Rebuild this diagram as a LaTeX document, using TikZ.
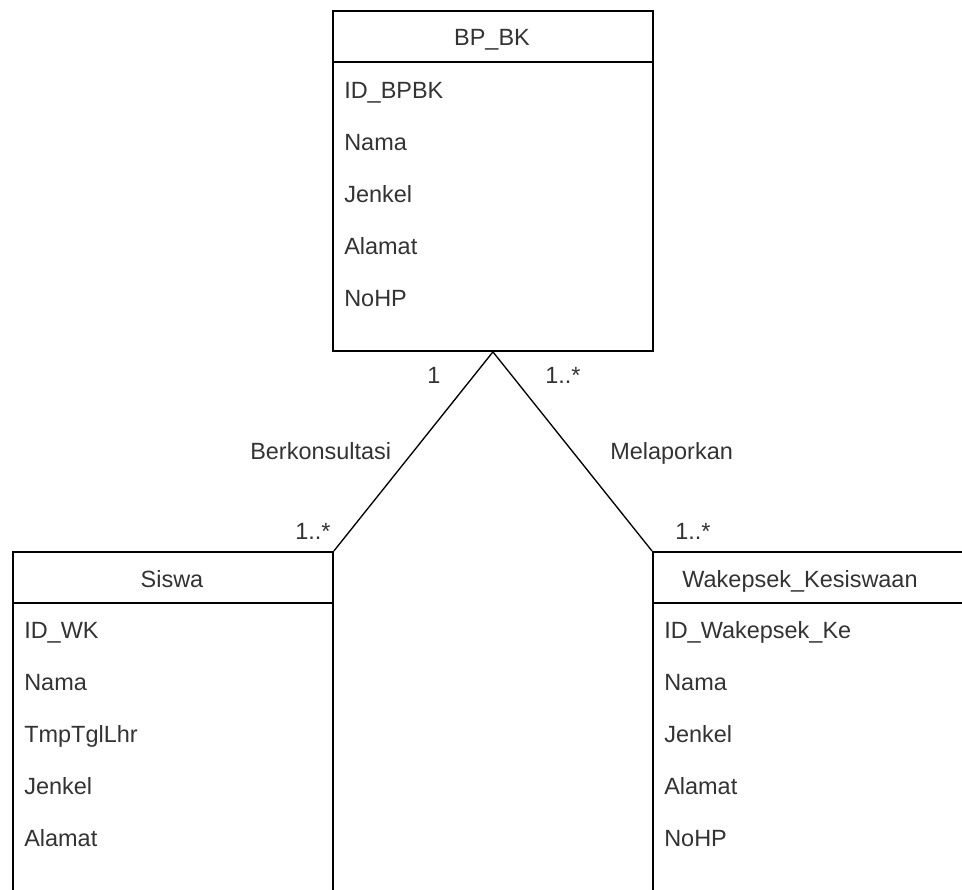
\documentclass[tikz,border=0pt]{standalone}
\usepackage{fontspec}
\setmainfont{Liberation Sans}
\begin{document}
\begin{tikzpicture}[x=0.75pt,y=-0.75pt,
  umlbox/.style={draw=black, line width=1.4pt, fill=white, rectangle, inner sep=0pt,
    minimum width=240pt, minimum height=255pt, anchor=north west},
  divider/.style={draw=black, line width=1.4pt},
  assoc/.style={draw=black, line width=1pt},
  txt/.style={text=black!80, inner sep=0pt, anchor=base west, font=\fontsize{17.6}{20}\selectfont},
  title/.style={txt, anchor=base}]
\path[use as bounding box] (0,0) rectangle (962,889);
\clip (0,0) rectangle (962,889);

% class boxes
\node[umlbox] (bpbk) at (332,10) {};
\node[umlbox] (siswa) at (12,551) {};
\node[umlbox] (waka) at (652,551) {};

% header dividers
\foreach \b in {bpbk,siswa,waka}
  \draw[divider] ([yshift=-39pt]\b.north west) -- ([yshift=-39pt]\b.north east);

% BP_BK
\node[title] (t1) at (492,45) {BP\_BK};
\node[txt] (a11) at (344,98) {ID\_BPBK};
\node[txt] (a12) at (344,150) {Nama};
\node[txt] (a13) at (344,202) {Jenkel};
\node[txt] (a14) at (344,254) {Alamat};
\node[txt] (a15) at (344,306) {NoHP};

% Siswa
\node[title] (t2) at (172,587) {Siswa};
\node[txt] (a21) at (24,638) {ID\_WK};
\node[txt] (a22) at (24,690) {Nama};
\node[txt] (a23) at (24,742) {TmpTglLhr};
\node[txt] (a24) at (24,794) {Jenkel};
\node[txt] (a25) at (24,846) {Alamat};

% Wakepsek_Kesiswaan
\node[title] (t3) at (800,587) {Wakepsek\_Kesiswaan};
\node[txt] (a31) at (664,638) {ID\_Wakepsek\_Ke};
\node[txt] (a32) at (664,690) {Nama};
\node[txt] (a33) at (664,742) {Jenkel};
\node[txt] (a34) at (664,794) {Alamat};
\node[txt] (a35) at (664,846) {NoHP};

% associations
\draw[assoc] (bpbk.south) -- (siswa.north east);
\draw[assoc] (bpbk.south) -- (waka.north west);

% association labels and multiplicities
\node[txt] (m1) at (427,383) {1};
\node[txt] (m2) at (545,383) {1..*};
\node[txt] (m3) at (295,539) {1..*};
\node[txt] (m4) at (675,539) {1..*};
\node[txt] (l1) at (250,459) {Berkonsultasi};
\node[txt] (l2) at (610,459) {Melaporkan};
\end{tikzpicture}
\end{document}
